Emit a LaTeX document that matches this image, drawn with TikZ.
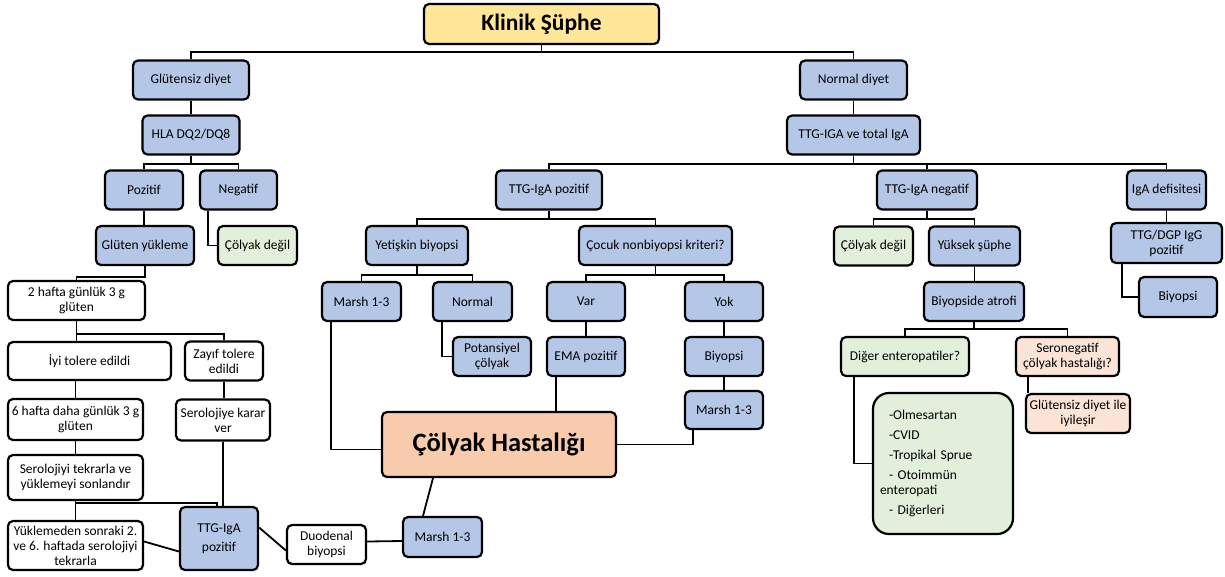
\documentclass[tikz,border=0pt]{standalone}
\usepackage{fontspec}
\setmainfont{Carlito}
\definecolor{bluefill}{HTML}{B4C7E7}
\definecolor{greenfill}{HTML}{E2EFDA}
\definecolor{peachfill}{HTML}{F8CBAD}
\definecolor{rosefill}{HTML}{FBE3D5}
\definecolor{yellowfill}{HTML}{FFE699}
\begin{document}
\begin{tikzpicture}[x=1pt, y=-1pt, line width=1.8pt,
    box/.style={draw, line width=2.2pt, rounded corners=5pt, inner sep=1pt, align=center,
                minimum height=39pt, font=\fontsize{13.5}{15}\selectfont},
    bluebox/.style={box, fill=bluefill},
    greenbox/.style={box, fill=greenfill},
    whitebox/.style={box, fill=white},
    rosebox/.style={box, fill=rosefill}]
    \useasboundingbox (0,0) rectangle (1225,576);

    \node[box, fill=yellowfill, minimum width=235pt, minimum height=40pt, font=\fontsize{23.5}{26}\selectfont\bfseries] (klinik) at (541.5,24) {Klinik Şüphe};

    \node[bluebox, minimum width=116pt] (glutensiz) at (191,80) {Glütensiz diyet};
    \node[bluebox, minimum width=107pt] (normaldiyet) at (853.5,80) {Normal diyet};
    \node[bluebox, minimum width=97pt]  (hla) at (191,135) {HLA DQ2/DQ8};
    \node[bluebox, minimum width=133pt] (ttgtotal) at (853.5,135) {TTG-IGA ve total IgA};

    \node[bluebox, minimum width=78pt]  (pozitif) at (144,190) {Pozitif};
    \node[bluebox, minimum width=77pt]  (negatif) at (238.5,190) {Negatif};
    \node[bluebox, minimum width=106pt] (ttgpoz) at (549,190) {TTG-IgA pozitif};
    \node[bluebox, minimum width=100pt] (ttgneg) at (927,190) {TTG-IgA negatif};
    \node[bluebox, minimum width=79pt]  (igadef) at (1166.5,190) {IgA defisitesi};

    \node[bluebox, minimum width=98pt]  (yukleme) at (145,245.5) {Glüten yükleme};
    \node[greenbox, minimum width=79pt] (degilA) at (257.5,245.5) {Çölyak değil};
    \node[bluebox, minimum width=102pt] (yetiskin) at (417,245.5) {Yetişkin biyopsi};
    \node[bluebox, minimum width=153pt] (cocuk) at (655.5,245.5) {Çocuk nonbiyopsi kriteri?};
    \node[greenbox, minimum width=79pt] (degilB) at (873.5,246) {Çölyak değil};
    \node[bluebox, minimum width=91pt]  (yuksek) at (974.5,246) {Yüksek şüphe};
    \node[bluebox, minimum width=111pt, minimum height=40pt] (dgp) at (1166.5,243) {TTG/DGP IgG\\pozitif};

    \node[whitebox, minimum width=137pt] (ikihafta) at (76.5,300.5) {2 hafta günlük 3 g\\glüten};
    \node[bluebox, minimum width=79pt]  (marshA) at (361.5,301.5) {Marsh 1-3};
    \node[bluebox, minimum width=79pt]  (normal) at (472.5,301.5) {Normal};
    \node[bluebox, minimum width=78pt]  (var) at (586,301.5) {Var};
    \node[bluebox, minimum width=78pt]  (yok) at (724,301.5) {Yok};
    \node[bluebox, minimum width=100pt] (atrofi) at (974,301.5) {Biyopside atrofi};
    \node[bluebox, minimum width=78pt, minimum height=40pt] (biyopsiB) at (1178,297) {Biyopsi};

    \node[whitebox, minimum width=163pt, minimum height=38pt] (iyi) at (89.5,361) {İyi tolere edildi};
    \node[whitebox, minimum width=78pt]  (zayif) at (224,361) {Zayıf tolere\\edildi};
    \node[bluebox, minimum width=78pt]   (potansiyel) at (492,356.5) {Potansiyel\\çölyak};
    \node[bluebox, minimum width=78pt]   (ema) at (586,356.5) {EMA pozitif};
    \node[bluebox, minimum width=78pt]   (biyopsiA) at (724,356.5) {Biyopsi};
    \node[greenbox, minimum width=128pt] (diger) at (905,356.5) {Diğer enteropatiler?};
    \node[rosebox, minimum width=103pt]  (sero) at (1067.5,356.5) {Seronegatif\\çölyak hastalığı?};

    \node[bluebox, minimum width=78pt, minimum height=38pt] (marshC) at (724,410) {Marsh 1-3};
    \node[rosebox, minimum width=104pt] (iyilesir) at (1078,413.5) {Glütensiz diyet ile\\iyileşir};
    \node[whitebox, minimum width=135pt, minimum height=41pt] (altihafta) at (75.5,419.5) {6 hafta daha günlük 3 g\\glüten};
    \node[whitebox, minimum width=94pt, minimum height=41pt]  (karar) at (223,420) {Serolojiye karar\\ver};

    \node[box, fill=peachfill, minimum width=234pt, minimum height=65pt, font=\fontsize{26.5}{30}\selectfont\bfseries] (colyak) at (499,444.5) {Çölyak Hastalığı};
    \node[greenbox, rounded corners=16pt, minimum width=140pt, minimum height=141pt, text width=126pt, inner xsep=7pt, align=left] (liste) at (943,463.5)
        {\hspace*{9pt}-Olmesartan\\[5pt]\hspace*{9pt}-CVID\\[5pt]\hspace*{9pt}-Tropikal Sprue\\[5pt]\hspace*{9pt}- Otoimmün\\enteropati\\[5pt]\hspace*{9pt}- Diğerleri};

    \node[whitebox, minimum width=135pt, minimum height=45pt] (tekrar) at (75.5,477.5) {Serolojiyi tekrarla ve\\yüklemeyi sonlandır};
    \node[whitebox, minimum width=135pt, minimum height=49pt] (sonraki) at (75.5,545.5) {Yüklemeden sonraki 2.\\ve 6. haftada serolojiyi\\tekrarla};
    \node[bluebox, minimum width=78pt, minimum height=63pt] (ttgsol) at (219,538.5) {TTG-IgA\\[4pt]pozitif};
    \node[whitebox, minimum width=79pt] (duodenal) at (326.5,544.5) {Duodenal\\biyopsi};
    \node[bluebox, minimum width=79pt, minimum height=40pt] (marshD) at (442.5,537) {Marsh 1-3};

    \draw (klinik.south) -- ++(0,7) -| (glutensiz.north);
    \draw (klinik.south) -- ++(0,7) -| (normaldiyet.north);
    \draw (glutensiz) -- (hla);
    \draw (hla.south) -- ++(0,8) -| (pozitif.north);
    \draw (hla.south) -- ++(0,8) -| (negatif.north);
    \draw (normaldiyet) -- (ttgtotal);
    \draw (ttgtotal.south) -- ++(0,8) -| (ttgpoz.north);
    \draw (ttgtotal.south) -- ++(0,8) -| (ttgneg.north);
    \draw (ttgtotal.south) -- ++(0,8) -| (igadef.north);

    \draw (pozitif.south) -- (pozitif.south |- yukleme.north);
    \draw ([xshift=-30.5pt]negatif.south) |- (degilA.west);
    \draw (yukleme.south) -- ++(0,11) -| (ikihafta.north);
    \draw (ikihafta.south) -- (ikihafta.south |- iyi.north);
    \draw (ikihafta.south) -- ++(0,13) -| (zayif.north);
    \draw (zayif.south) -- (zayif.south |- karar.north);
    \draw (altihafta.north |- iyi.south) -- (altihafta.north);
    \draw (altihafta) -- (tekrar);
    \draw (tekrar) -- (sonraki);
    \draw (tekrar.south) -- ++(0,2) -| ([xshift=-2pt]ttgsol.north);
    \draw (karar.south) -- (karar.south |- ttgsol.north);
    \draw ([yshift=4pt]sonraki.east) -- ([yshift=-13pt]ttgsol.west);
    \draw ([yshift=11pt]ttgsol.east) -- ([yshift=-6pt]duodenal.west);
    \draw ([yshift=3pt]duodenal.east) -- ([yshift=-4pt]marshD.west);
    \draw ([xshift=-19.5pt]marshD.north) -- ([xshift=-66pt]colyak.south);

    \draw (ttgpoz.south) -- ++(0,8) -| (yetiskin.north);
    \draw (ttgpoz.south) -- ++(0,8) -| (cocuk.north);
    \draw (yetiskin.south) -- ++(0,9) -| (marshA.north);
    \draw (yetiskin.south) -- ++(0,9) -| (normal.north);
    \draw (cocuk.south) -- ++(0,9) -| (var.north);
    \draw (cocuk.south) -- ++(0,9) -| (yok.north);
    \draw ([xshift=-30.5pt]marshA.south) |- ([yshift=-5pt]colyak.west);
    \draw ([xshift=-30.5pt]normal.south) |- (potansiyel.west);
    \draw (var) -- (ema);
    \draw ([xshift=-30pt]ema.south) -- ([xshift=-30pt]ema.south |- colyak.north);
    \draw (yok) -- (biyopsiA);
    \draw (biyopsiA) -- (marshC);
    \draw ([xshift=-31pt]marshC.south) |- (colyak.east);

    \draw (ttgneg.south) -- ++(0,8) -| (degilB.north);
    \draw (ttgneg.south) -- ++(0,8) -| (yuksek.north);
    \draw (yuksek.south) -- (yuksek.south |- atrofi.north);
    \draw (atrofi.south) -- ++(0,7) -| (diger.north);
    \draw (atrofi.south) -- ++(0,7) -| (sero.north);
    \draw ([xshift=-51pt]diger.south) |- (liste.west);
    \draw ([xshift=-39.5pt]sero.south) -- ([xshift=-39.5pt]sero.south |- iyilesir.north);

    \draw (igadef) -- (dgp);
    \draw ([xshift=-44.5pt]dgp.south) |- (biyopsiB.west);
\end{tikzpicture}
\end{document}
